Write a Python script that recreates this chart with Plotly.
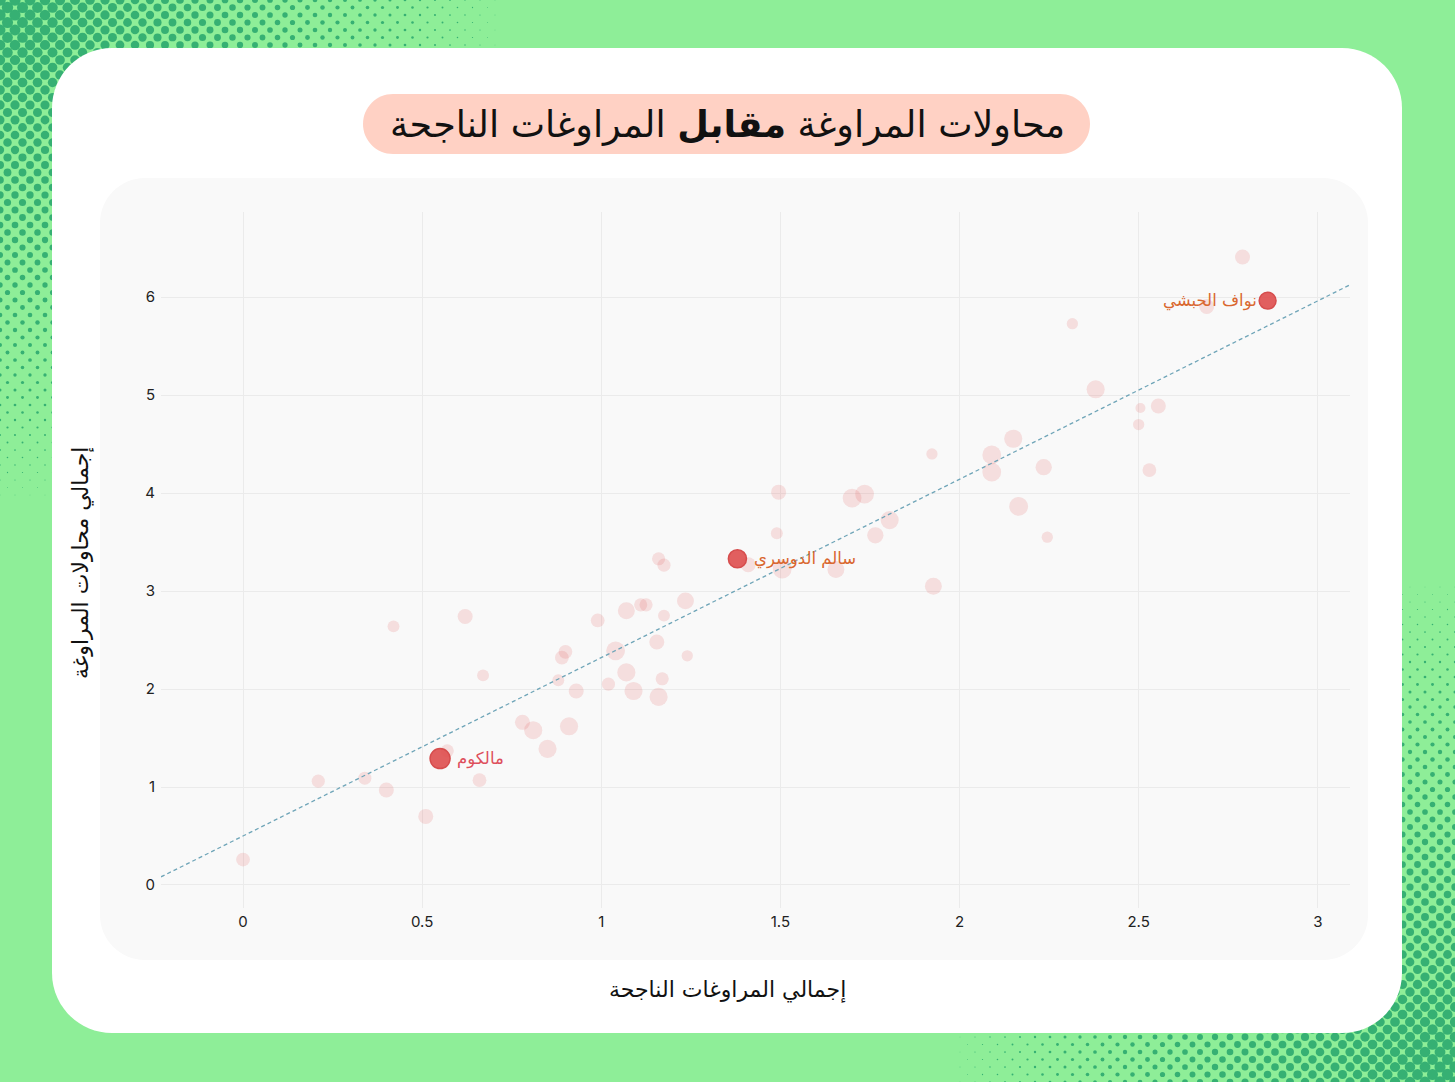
import base64
import numpy as np
import plotly.graph_objects as go

W, H = 1455, 1082

# players: successful dribbles (x), dribble attempts (y), matches played (bubble size)
successful = [0.00, 0.21, 0.34, 0.40, 0.51, 0.57, 0.66, 0.67, 0.62, 0.42,
              0.78, 0.81, 0.85, 0.91, 0.88, 0.93, 0.89, 0.90, 0.99, 1.02,
              1.04, 1.07, 1.09, 1.07, 1.11, 1.125, 1.155, 1.16, 1.17, 1.175,
              1.24, 1.235, 1.16, 1.175, 1.41, 1.495, 1.49, 1.505, 1.655, 1.70,
              1.735, 1.765, 1.805, 1.923, 1.927, 2.09, 2.09, 2.15, 2.165, 2.235,
              2.245, 2.315, 2.38, 2.505, 2.50, 2.555, 2.53, 2.69, 2.79]
attempts = [0.26, 1.06, 1.09, 0.97, 0.70, 1.37, 1.07, 2.14, 2.74, 2.64,
            1.66, 1.58, 1.39, 1.62, 2.09, 1.98, 2.32, 2.38, 2.70, 2.05,
            2.39, 2.17, 1.98, 2.80, 2.86, 2.86, 2.48, 1.92, 2.105, 2.75,
            2.34, 2.90, 3.33, 3.265, 3.27, 4.01, 3.59, 3.225, 3.22, 3.95,
            3.99, 3.57, 3.725, 4.40, 3.05, 4.39, 4.215, 4.555, 3.865, 4.265,
            3.55, 5.73, 5.06, 4.87, 4.70, 4.89, 4.235, 5.905, 6.41]
matches = [22, 21, 21, 24, 24, 21, 22, 19, 24, 19,
           24, 29, 29, 29, 19, 24, 22, 22, 22, 21,
           30, 29, 29, 27, 21, 21, 24, 29, 21, 19,
           18, 27, 21, 21, 24, 24, 19, 30, 27, 30,
           30, 26, 29, 18, 27, 30, 30, 29, 30, 26,
           18, 18, 29, 16, 18, 24, 22, 24, 24]

highlight_names = ['مالكوم', 'سالم الدوسري', 'نواف الحبشي']
highlight_successful = [0.55, 1.38, 2.86]
highlight_attempts = [1.29, 3.33, 5.965]
highlight_matches = [32, 29, 27]
highlight_label_colors = ['#de4f5c', '#d9672f', '#d9672f']

x_ticks = [0, 0.5, 1, 1.5, 2, 2.5, 3]
y_ticks = [0, 1, 2, 3, 4, 5, 6]
x_range = [-0.229, 3.09]
y_range = [-0.235, 6.87]

title_text = 'محاولات المراوغة <b>مقابل</b> المراوغات الناجحة'
x_title = 'إجمالي المراوغات الناجحة'
y_title = 'إجمالي محاولات المراوغة'

ARABIC = 'DejaVu Sans'
NUM = 'Inter, DejaVu Sans'


def px(x, y):
    return x / W, 1 - y / H


def rounded_rect(x0, y0, x1, y1, r):
    c = 0.5523 * r

    def p(x, y):
        a, b = px(x, y)
        return f'{a:.5f},{b:.5f}'
    return (f'M{p(x0 + r, y0)} L{p(x1 - r, y0)} '
            f'C{p(x1 - r + c, y0)} {p(x1, y0 + r - c)} {p(x1, y0 + r)} '
            f'L{p(x1, y1 - r)} '
            f'C{p(x1, y1 - r + c)} {p(x1 - r + c, y1)} {p(x1 - r, y1)} '
            f'L{p(x0 + r, y1)} '
            f'C{p(x0 + r - c, y1)} {p(x0, y1 - r + c)} {p(x0, y1 - r)} '
            f'L{p(x0, y0 + r)} '
            f'C{p(x0, y0 + r - c)} {p(x0 + r - c, y0)} {p(x0 + r, y0)} Z')


def halftone_background():
    # green page with halftone dots fading out from two corners
    s, R, rmax = 7.5, 530, 5.8
    dots = []
    for corner in [(0, 0, 1, 1), (W, H, -1, -1)]:
        cx, cy, sx, sy = corner
        n = int(R / s) + 2
        for i in range(n):
            for j in range(n):
                if (i + j) % 2:
                    continue
                dx, dy = i * s, j * s
                d = np.hypot(dx, dy)
                r = rmax * (1 - d / R)
                if r < 0.35:
                    continue
                dots.append(f'<circle cx="{cx + sx * dx:.1f}" cy="{cy + sy * dy:.1f}" r="{r:.2f}"/>')
    svg = (f'<svg xmlns="http://www.w3.org/2000/svg" width="{W}" height="{H}" viewBox="0 0 {W} {H}">'
           f'<rect width="{W}" height="{H}" fill="#8eee98"/>'
           f'<g fill="#36b073">' + ''.join(dots) + '</g></svg>')
    return 'data:image/svg+xml;base64,' + base64.b64encode(svg.encode()).decode()


# regression over every player
all_x = np.array(successful + highlight_successful)
all_y = np.array(attempts + highlight_attempts)
slope, intercept = np.polyfit(all_x, all_y, 1)
trend_x = np.array(x_range)
trend_y = intercept + slope * trend_x

fig = go.Figure()

fig.add_trace(go.Scatter(
    x=successful, y=attempts, mode='markers',
    marker=dict(size=matches, sizemode='diameter', sizeref=1.6,
                color='rgba(224,82,82,0.23)', line=dict(width=0)),
    hoverinfo='skip', showlegend=False
))

fig.add_trace(go.Scatter(
    x=trend_x, y=trend_y, mode='lines',
    line=dict(color='#6fa5b8', width=1.3, dash='4px,3px'),
    hoverinfo='skip', showlegend=False
))

fig.add_trace(go.Scatter(
    x=highlight_successful, y=highlight_attempts, mode='markers',
    marker=dict(size=highlight_matches, sizemode='diameter', sizeref=1.6,
                color='#e05252', opacity=0.92, line=dict(width=1.5, color='#d43f3f')),
    text=highlight_names, hoverinfo='text', showlegend=False
))

# player labels
label_side = ['right', 'right', 'left']
for name, x, y, col, side in zip(highlight_names, highlight_successful,
                                 highlight_attempts, highlight_label_colors, label_side):
    fig.add_annotation(
        x=x, y=y, text=name, showarrow=False, yanchor='middle',
        xanchor='left' if side == 'right' else 'right',
        xshift=15 if side == 'right' else -9,
        font=dict(family=ARABIC, size=16.5, color=col)
    )

shapes = [
    dict(type='path', path=rounded_rect(52, 48, 1402, 1033, 60),
         xref='paper', yref='paper', fillcolor='white', line=dict(width=0), layer='below'),
    dict(type='path', path=rounded_rect(100, 178, 1368, 960, 45),
         xref='paper', yref='paper', fillcolor='#f9f9f9', line=dict(width=0), layer='below'),
    dict(type='path', path=rounded_rect(363, 94, 1090, 154, 30),
         xref='paper', yref='paper', fillcolor='#ffd1c4', line=dict(width=0), layer='below'),
]

tx, ty = px(727, 124)
fig.add_annotation(x=tx, y=ty, xref='paper', yref='paper', text=title_text,
                   xanchor='center', yanchor='middle', showarrow=False,
                   font=dict(family=ARABIC, size=36.5, color='#111111'))
ax_, ay_ = px(727, 990)
fig.add_annotation(x=ax_, y=ay_, xref='paper', yref='paper', text=x_title,
                   xanchor='center', yanchor='middle', showarrow=False,
                   font=dict(family=ARABIC, size=22, color='#111111'))
bx_, by_ = px(81, 563)
fig.add_annotation(x=bx_, y=by_, xref='paper', yref='paper', text=y_title, textangle=-90,
                   xanchor='center', yanchor='middle', showarrow=False,
                   font=dict(family=ARABIC, size=22, color='#111111'))

fig.update_layout(
    width=W, height=H,
    margin=dict(l=0, r=0, t=0, b=0),
    paper_bgcolor='#8eee98',
    plot_bgcolor='rgba(0,0,0,0)',
    shapes=shapes,
    images=[dict(source=halftone_background(), xref='paper', yref='paper',
                 x=0, y=1, sizex=1, sizey=1, xanchor='left', yanchor='top',
                 sizing='stretch', layer='below')],
    xaxis=dict(domain=[161 / W, 1350 / W], range=x_range, tickvals=x_ticks,
               showgrid=True, gridcolor='#ebebeb', gridwidth=1, zeroline=False,
               showline=False, ticklabelstandoff=3,
               tickfont=dict(family=NUM, size=15, color='#222222')),
    yaxis=dict(domain=[1 - 908 / H, 1 - 212 / H], range=y_range, tickvals=y_ticks,
               showgrid=True, gridcolor='#ebebeb', gridwidth=1, zeroline=False,
               showline=False, ticklabelstandoff=5,
               tickfont=dict(family=NUM, size=15, color='#222222')),
    hovermode='closest'
)

fig.write_html('out.html', config={'displayModeBar': False},
               post_script="document.body.style.margin='0';document.body.style.overflow='hidden';")
